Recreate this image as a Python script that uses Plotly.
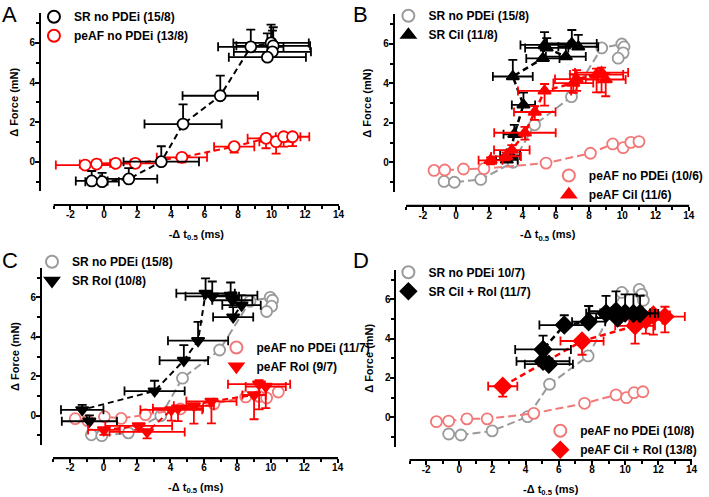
import plotly.graph_objects as go

# ---------------- data ----------------
# Panel A
A_SR_x = [-0.73, -0.11, 1.48, 3.42, 4.72, 6.94, 8.76, 9.97, 10.10, 10.05, 9.75]
A_SR_y = [-0.97, -1.01, -0.87, 0.00, 1.90, 3.33, 5.80, 6.00, 5.85, 5.55, 5.28]
A_SR_xerr = [0.95, 1.0, 1.7, 2.25, 2.3, 2.25, 1.95, 2.25, 2.2, 2.3, 2.3]
A_SR_yup = [0.5, 0.45, 0.55, 0.78, 1.0, 1.02, 0.87, 0.92, 0.94, 1.07, 1.2]

A_AF_x = [-1.12, -0.44, 0.70, 1.87, 4.65, 7.77, 9.67, 10.27, 10.72, 11.25]
A_AF_y = [-0.17, -0.12, -0.08, -0.08, 0.22, 0.76, 1.18, 1.01, 1.26, 1.26]
A_AF_xerr = [1.75, 1.0, 0.9, 1.5, 1.5, 1.2, 1.1, 1.0, 1.0, 1.0]
A_AF_yup = [0.1, 0.1, 0.1, 0.12, 0.12, 0.15, 0.2, 0.15, 0.15, 0.15]
A_AF_ydn = [0.15, 0.15, 0.15, 0.2, 0.25, 0.3, 0.5, 0.6, 0.5, 0.47]

# Panel B
B_SR0_x = A_SR_x
B_SR0_y = A_SR_y
B_AF0_x = [-1.33, -0.69, 0.44, 1.67, 5.41, 8.08, 9.42, 10.05, 10.51, 11.0]
B_AF0_y = [-0.41, -0.39, -0.34, -0.32, -0.04, 0.46, 0.93, 0.74, 1.01, 1.05]

B_CIL_x = [3.05, 3.25, 3.5, 4.05, 3.41, 5.22, 5.32, 5.45, 6.60, 6.96, 7.35]
B_CIL_y = [0.12, 0.35, 1.42, 2.91, 4.35, 5.27, 5.95, 5.80, 5.36, 6.03, 5.86]
B_CIL_xerr = [0.65, 0.6, 0.65, 0.7, 1.2, 1.0, 1.45, 1.3, 1.2, 1.5, 1.2]
B_CIL_yup = [0.3, 0.3, 0.48, 0.62, 0.84, 0.5, 0.65, 0.5, 0.5, 0.68, 0.6]

B_CILAF_x = [2.07, 3.0, 3.35, 4.14, 4.73, 5.32, 7.05, 7.25, 8.45, 8.75, 9.0]
B_CILAF_y = [0.10, 0.30, 0.62, 1.50, 2.55, 3.62, 4.02, 4.22, 4.45, 4.55, 4.20]
B_CILAF_xerr = [0.72, 0.9, 1.07, 1.85, 1.25, 1.6, 1.2, 1.3, 1.6, 1.6, 1.2]
B_CILAF_yup = [0.15, 0.2, 0.25, 0.3, 0.3, 0.35, 0.45, 0.45, 0.3, 0.25, 0.3]
B_CILAF_ydn = [0.2, 0.2, 0.3, 0.35, 0.4, 0.75, 0.5, 0.6, 0.9, 1.0, 0.85]

# Panel C
C_SR0_x = A_SR_x
C_SR0_y = A_SR_y
C_AF0_x = [-1.7, -0.95, 0.05, 1.05, 2.5, 4.6, 6.6, 8.5, 9.3, 9.75, 10.45]
C_AF0_y = [-0.15, -0.25, -0.05, -0.14, 0.05, 0.35, 0.6, 0.95, 0.98, 0.9, 1.2]

C_ROL_x = [-0.85, -1.28, 3.05, 4.8, 5.65, 6.1, 6.5, 7.6, 7.7, 8.25, 7.75]
C_ROL_y = [-0.28, 0.30, 1.25, 2.8, 3.8, 6.2, 6.05, 6.1, 5.85, 5.6, 5.0]
C_ROL_xerr = [1.65, 1.27, 1.8, 1.45, 1.8, 1.75, 1.6, 1.6, 1.2, 1.15, 1.2]
C_ROL_yup = [0.3, 0.25, 0.52, 0.78, 0.95, 0.76, 0.75, 0.65, 0.4, 0.5, 0.5]

C_ROLAF_x = [0.02, 2.1, 2.6, 4.05, 4.45, 5.4, 6.45, 9.0, 9.3, 9.7]
C_ROLAF_y = [-0.72, -0.52, -0.82, 0.30, 0.38, 0.50, 0.73, 1.05, 1.60, 1.48]
C_ROLAF_xerr = [0.95, 2.0, 2.25, 1.85, 1.5, 1.2, 1.5, 0.7, 1.86, 1.2]
C_ROLAF_yup = [0, 0, 0, 0, 0, 0, 0, 0, 0.2, 0]
C_ROLAF_ydn = [0.25, 0.2, 0.33, 0.55, 0.65, 0.9, 1.12, 1.23, 1.28, 1.1]

# Panel D
D_SR0_x = [-0.64, 0.10, 1.98, 4.12, 5.44, 7.77, 9.8, 10.85, 11.0, 11.1]
D_SR0_y = [-0.85, -0.90, -0.69, 0.03, 1.68, 3.12, 6.35, 6.5, 6.25, 5.95]
D_AF0_x = [-1.38, -0.64, 0.46, 1.68, 4.49, 7.55, 9.45, 10.08, 10.54, 11.07]
D_AF0_y = [-0.22, -0.19, -0.08, -0.08, 0.20, 0.71, 1.14, 1.00, 1.25, 1.30]

D_CR_x = [5.4, 5.05, 5.05, 6.33, 7.8, 8.85, 9.45, 9.55, 10.0, 10.5, 10.9]
D_CR_y = [2.7, 2.85, 3.45, 4.69, 4.86, 5.29, 5.4, 5.05, 5.3, 5.28, 5.28]
D_CR_xerr = [1.45, 1.6, 1.68, 1.5, 1.0, 1.2, 1.6, 1.3, 1.5, 1.3, 1.1]
D_CR_yup = [0.3, 0.35, 0.7, 0.5, 0.8, 0.88, 1.0, 0.4, 0.95, 0.97, 0.9]

D_CRAF_x = [2.62, 7.4, 10.6, 11.25, 11.7, 12.4]
D_CRAF_y = [1.58, 3.88, 4.65, 4.95, 5.2, 5.12]
D_CRAF_xerr = [0.88, 1.3, 1.2, 1.0, 1.0, 1.2]
D_CRAF_yup = [0, 0, 0, 0.2, 0.2, 0.5]
D_CRAF_ydn = [0.53, 0.7, 0.9, 0.7, 1.0, 0.8]

X_TICKS = [-2, 0, 2, 4, 6, 8, 10, 12, 14]
Y_TICKS = [0, 2, 4, 6]
X_RANGE = [-3, 14]
Y_RANGE = [-1.5, 7.5]

# ---------------- layout helpers ----------------
W, H = 709, 497
def fx(p):
    return p / W
def fy(p):
    return 1 - p / H

BLACK = "#000000"
RED = "#ff0000"
GREY = "#9a9a9a"
LRED = "#f27878"
FONT = "Arial"

fig = go.Figure()

def series(x, y, ax, name, legend, symbol, color, fill, dash, lwidth=2,
           xerr=None, yup=None, ydn=None, rank=1, msize=11):
    xa, ya = ax
    fig.add_trace(go.Scatter(
        x=x, y=y, xaxis=xa, yaxis=ya, mode="lines", showlegend=False,
        line=dict(color=color, width=lwidth, dash=dash), hoverinfo="skip",
        cliponaxis=False))
    kw = {}
    if xerr is not None:
        kw["error_x"] = dict(type="data", array=xerr, symmetric=True,
                             color=color, thickness=1.8, width=4.5)
    if yup is not None:
        kw["error_y"] = dict(type="data", array=yup,
                             arrayminus=ydn if ydn is not None else [0] * len(y),
                             symmetric=False, color=color, thickness=1.8, width=4.5)
    fig.add_trace(go.Scatter(
        x=x, y=y, xaxis=xa, yaxis=ya, mode="markers", name=name,
        legend=legend, legendrank=rank, cliponaxis=False,
        marker=dict(symbol=symbol, size=msize, color=fill,
                    line=dict(color=color, width=1.8)), **kw))

# Panel A
series(A_AF_x, A_AF_y, ("x", "y"), "peAF no PDEi (13/8)", "legend", "circle",
       RED, "white", "6px,4px", xerr=A_AF_xerr, yup=A_AF_yup, ydn=A_AF_ydn, rank=2)
series(A_SR_x, A_SR_y, ("x", "y"), "SR no PDEi (15/8)", "legend", "circle",
       BLACK, "white", "6px,4px", xerr=A_SR_xerr, yup=A_SR_yup, rank=1)

# Panel B
series(B_SR0_x, B_SR0_y, ("x2", "y2"), "SR no PDEi (15/8)", "legend2", "circle",
       GREY, "white", "8px,4px", rank=1)
series(B_AF0_x, B_AF0_y, ("x2", "y2"), "peAF no PDEi (10/6)", "legend3", "circle",
       LRED, "white", "8px,4px", rank=1)
series(B_CIL_x, B_CIL_y, ("x2", "y2"), "SR Cil (11/8)", "legend2", "triangle-up",
       BLACK, BLACK, "6px,4px", lwidth=2.5, xerr=B_CIL_xerr, yup=B_CIL_yup, rank=2)
series(B_CILAF_x, B_CILAF_y, ("x2", "y2"), "peAF Cil (11/6)", "legend3", "triangle-up",
       RED, RED, "6px,4px", lwidth=2.5, xerr=B_CILAF_xerr, yup=B_CILAF_yup,
       ydn=B_CILAF_ydn, rank=2)

# Panel C
series(C_SR0_x, C_SR0_y, ("x3", "y3"), "SR no PDEi (15/8)", "legend4", "circle",
       GREY, "white", "8px,4px", rank=1)
series(C_AF0_x, C_AF0_y, ("x3", "y3"), "peAF no PDEi (11/7)", "legend5", "circle",
       LRED, "white", "8px,4px", rank=1)
series(C_ROL_x, C_ROL_y, ("x3", "y3"), "SR Rol (10/8)", "legend4", "triangle-down",
       BLACK, BLACK, "6px,4px", xerr=C_ROL_xerr, yup=C_ROL_yup, rank=2)
series(C_ROLAF_x, C_ROLAF_y, ("x3", "y3"), "peAF Rol (9/7)", "legend5", "triangle-down",
       RED, RED, "6px,4px", xerr=C_ROLAF_xerr, yup=C_ROLAF_yup, ydn=C_ROLAF_ydn, rank=2)

# Panel D
series(D_SR0_x, D_SR0_y, ("x4", "y4"), "SR no PDEi 10/7)", "legend6", "circle",
       GREY, "white", "8px,4px", rank=1)
series(D_AF0_x, D_AF0_y, ("x4", "y4"), "peAF no PDEi (10/8)", "legend7", "circle",
       LRED, "white", "8px,4px", rank=1)
series(D_CRAF_x, D_CRAF_y, ("x4", "y4"), "peAF Cil + Rol (13/8)", "legend7", "diamond",
       RED, RED, "6px,4px", lwidth=2.5, xerr=D_CRAF_xerr, yup=D_CRAF_yup,
       ydn=D_CRAF_ydn, rank=2, msize=13)
series(D_CR_x, D_CR_y, ("x4", "y4"), "SR Cil + Rol (11/7)", "legend6", "diamond",
       BLACK, BLACK, "6px,4px", lwidth=2.5, xerr=D_CR_xerr, yup=D_CR_yup,
       rank=2, msize=13)

# geometry per panel (pixels): x-domain, y-domain (top,bottom), y-axis x-pos, x-axis y-pos
panels = [
    dict(s="", x0=54.5, x1=344.3, yt=13.2, yb=191.4, yax=40.7, xax=205.0),
    dict(s="2", x0=412.7, x1=700.0, yt=14.4, yb=191.9, yax=400.0, xax=205.7),
    dict(s="3", x0=54.3, x1=343.3, yt=267.7, yb=445.3, yax=41.7, xax=458.3),
    dict(s="4", x0=416.0, x1=702.7, yt=269.8, yb=446.8, yax=401.7, xax=460.0),
]

tickfont = dict(family=FONT, size=10, color="black", weight="bold")
titlefont = dict(family=FONT, size=11, color="black", weight="bold")
layout = {}
shapes = []
for p in panels:
    s = p["s"]
    layout["xaxis" + s] = dict(
        domain=[fx(p["x0"]), fx(p["x1"])], range=[X_RANGE[0], X_RANGE[1] + 0.02],
        anchor="free",
        position=fy(p["xax"]), showline=True, linecolor="black", linewidth=2,
        showgrid=False, zeroline=False, ticks="outside", ticklen=4, tickwidth=2,
        tickcolor="black", tickvals=X_TICKS, ticktext=[str(v) for v in X_TICKS],
        tickfont=tickfont, ticklabelstandoff=-4,
        minor=dict(dtick=1, tick0=1, ticks="outside", ticklen=3, tickwidth=2,
                   tickcolor="black"),
        title=dict(text="-Δ t<sub>0.5</sub> (ms)", font=titlefont, standoff=10))
    layout["yaxis" + s] = dict(
        domain=[fy(p["yb"]), fy(p["yt"])], range=Y_RANGE, anchor="free",
        position=fx(p["yax"]), showline=True, linecolor="black", linewidth=2,
        showgrid=False, zeroline=False, ticks="outside", ticklen=4, tickwidth=2,
        tickcolor="black", tickvals=Y_TICKS, ticktext=[str(v) for v in Y_TICKS],
        tickfont=tickfont, ticklabelstandoff=-2,
        minor=dict(dtick=1, tick0=1, ticks="outside", ticklen=3, tickwidth=2,
                   tickcolor="black"),
        title=dict(text="Δ Force (mN)", font=titlefont, standoff=8))
    # explicit x-axis baseline (offset Prism-style axis)
    shapes.append(dict(type="line", xref="paper", yref="paper",
                       x0=fx(p["x0"]), x1=fx(p["x1"]), y0=fy(p["xax"]), y1=fy(p["xax"]),
                       line=dict(color="black", width=2)))

legfont = dict(family=FONT, size=12, color="black", weight="bold")
def leg(xp, yp):
    return dict(x=fx(xp), y=fy(yp), xanchor="left", yanchor="top",
                bgcolor="rgba(0,0,0,0)", font=legfont, itemsizing="constant",
                tracegroupgap=0, traceorder="normal")

layout.update(
    legend=leg(34.5, 2.3),
    legend2=leg(394.5, 1.3),
    legend3=leg(557.5, 161),
    legend4=leg(32.5, 247.3),
    legend5=leg(219.8, 333),
    legend6=leg(394.5, 257.7),
    legend7=leg(548.8, 416.3),
)

annots = []
for lab, xp, yp in [("A", 0.5, 15), ("B", 356.5, 15), ("C", 0.5, 260), ("D", 356.5, 260)]:
    annots.append(dict(text=lab, x=fx(xp), y=fy(yp), xref="paper", yref="paper",
                       xanchor="left", yanchor="middle", showarrow=False,
                       font=dict(family=FONT, size=22, color="black")))

fig.update_layout(width=W, height=H, margin=dict(l=0, r=0, t=0, b=0),
                  paper_bgcolor="white", plot_bgcolor="white",
                  annotations=annots, shapes=shapes, **layout)

fig.write_html("out.html", config={"displayModeBar": False},
               post_script="document.body.style.margin='0px';"
                           "document.body.style.overflow='hidden';")
